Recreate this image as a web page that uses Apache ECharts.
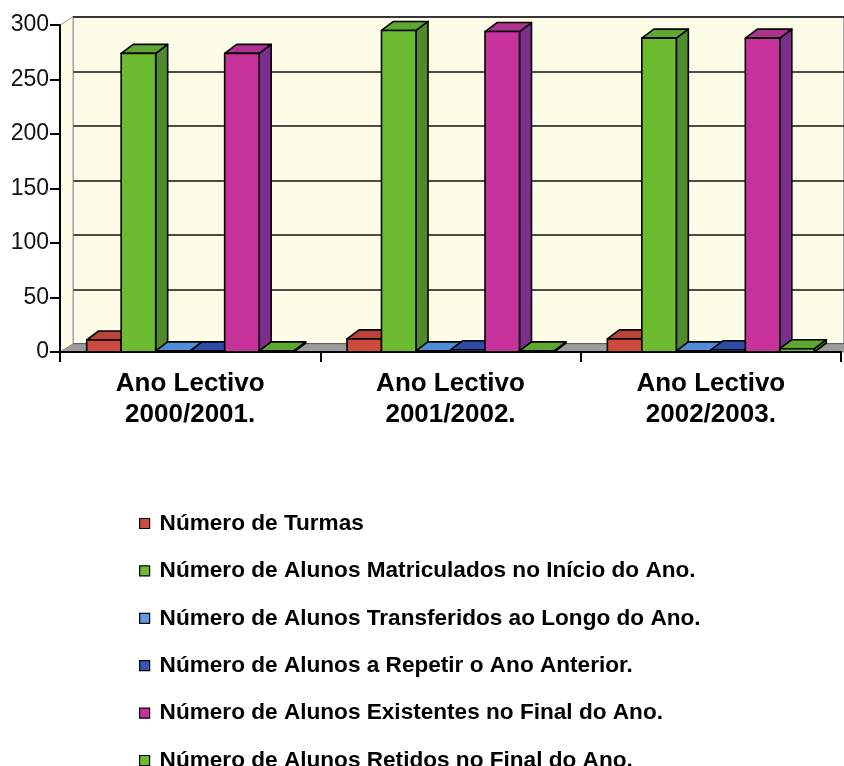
<!DOCTYPE html>
<html>
<head>
<meta charset="utf-8">
<script src="https://cdn.jsdelivr.net/npm/echarts@6/dist/echarts.min.js"></script>
<style>
html,body{margin:0;padding:0;background:#fff;}
#chart{width:844px;height:766px;}
</style>
</head>
<body>
<div id="chart"></div>
<script>
// ---- data ----
const categories = ['Ano Lectivo\n2000/2001.', 'Ano Lectivo\n2001/2002.', 'Ano Lectivo\n2002/2003.'];
const seriesNames = [
  'Número de Turmas',
  'Número de Alunos Matriculados no Início do Ano.',
  'Número de Alunos Transferidos ao Longo do Ano.',
  'Número de Alunos a Repetir o Ano Anterior.',
  'Número de Alunos Existentes no Final do Ano.',
  'Número de Alunos Retidos no Final do Ano.'
];
const turmas = [11, 12, 12];
const matriculados = [274, 295, 288];
const transferidos = [1, 1, 1];
const repetir = [1, 2, 2];
const existentes = [274, 294, 288];
const retidos = [1, 1, 3];
const yTicks = [0, 50, 100, 150, 200, 250, 300];

const seriesValues = [turmas, matriculados, transferidos, repetir, existentes, retidos];
const frontColors = ['#CC4B3E', '#6DBB30', '#5B9EE6', '#3556B8', '#C7339A', '#6DBB30'];
const topColors   = ['#B8443A', '#5EA832', '#4E8ED6', '#2E4BA6', '#B03290', '#5EA832'];
const sideColors  = ['#9E3A30', '#4F8A2C', '#3F78B8', '#263F8C', '#7B2E8C', '#4F8A2C'];

const NS = seriesNames.length;
const GROUP = 0.795;
const DX = 12, DY = 9;   // bar depth
const FDX = 13, FDY = 8; // floor / wall depth

function barRender(si) {
  return function (params, api) {
    const cat = api.value(0), v = api.value(1);
    const c = api.coord([cat, v]);
    const c0 = api.coord([cat, 0]);
    const band = api.size([1, 0])[0];
    const w = band * GROUP / NS;
    const x = c[0] - band * GROUP / 2 + si * w;
    const yt = c[1], yb = c0[1];
    const ls = {stroke: '#000', lineWidth: 1.6, lineJoin: 'round'};
    return {
      type: 'group',
      children: [
        {type: 'polygon', shape: {points: [[x + w, yt], [x + w + DX, yt - DY], [x + w + DX, yb - DY], [x + w, yb]]},
          style: Object.assign({fill: sideColors[si]}, ls)},
        {type: 'polygon', shape: {points: [[x, yt], [x + DX, yt - DY], [x + w + DX, yt - DY], [x + w, yt]]},
          style: Object.assign({fill: topColors[si]}, ls)},
        {type: 'rect', shape: {x: x, y: yt, width: w, height: yb - yt},
          style: Object.assign({fill: frontColors[si]}, ls)}
      ]
    };
  };
}

function wallRender(params, api) {
  const p0 = api.coord([0, 0]);
  const band = api.size([1, 0])[0];
  const left = p0[0] - band / 2;
  const right = left + band * categories.length;
  const y0 = p0[1];
  const yTop = api.coord([0, yTicks[yTicks.length - 1]])[1];
  return {
    type: 'group',
    children: [
      {type: 'polygon', shape: {points: [[left, yTop], [left + FDX, yTop - FDY], [left + FDX, y0 - FDY], [left, y0]]},
        style: {fill: '#FDFCE6', stroke: '#9a9aa8', lineWidth: 1}},
      {type: 'polygon', shape: {points: [[left, y0], [left + FDX, y0 - FDY], [right + FDX + 20, y0 - FDY], [right + 20, y0]]},
        style: {fill: '#9C9C9C', stroke: '#8a8a8a', lineWidth: 1}}
    ]
  };
}

const series = [
  {
    type: 'custom', name: '_wall', xAxisIndex: 0, yAxisIndex: 0, silent: true, z: 1,
    renderItem: wallRender, data: [[0, 0]], legendHoverLink: false
  }
];
seriesNames.forEach(function (name, si) {
  series.push({
    type: 'custom', name: name, xAxisIndex: 0, yAxisIndex: 0, z: 3,
    itemStyle: {color: frontColors[si]},
    renderItem: barRender(si),
    encode: {x: 0, y: 1},
    data: seriesValues[si].map(function (v, i) { return [i, v]; })
  });
});
// back wall grid (gridlines)
series.push({type: 'line', xAxisIndex: 1, yAxisIndex: 1, data: [], silent: true});

const chart = echarts.init(document.getElementById('chart'), null, {renderer: 'canvas'});
chart.setOption({
  backgroundColor: '#ffffff',
  animation: false,
  grid: [
    {left: 60, right: 3, top: 25, bottom: 414, containLabel: false},
    {left: 73, right: -13, top: 17, bottom: 422, containLabel: false, show: true,
      backgroundColor: '#FDFCE6', borderColor: '#8f8fa8', borderWidth: 1.5}
  ],
  xAxis: [
    {type: 'category', gridIndex: 0, data: categories, boundaryGap: true,
      axisLine: {lineStyle: {color: '#000', width: 2}},
      axisTick: {show: true, length: 10, lineStyle: {color: '#000', width: 2}},
      axisLabel: {color: '#000', fontFamily: 'Liberation Sans', fontWeight: 'bold', fontSize: 26, lineHeight: 31, margin: 16},
      splitLine: {show: false}, z: 5},
    {type: 'category', gridIndex: 1, data: categories, show: false}
  ],
  yAxis: [
    {type: 'value', gridIndex: 0, min: 0, max: 300, interval: 50,
      axisLine: {show: true, lineStyle: {color: '#000', width: 2}},
      axisTick: {show: true, length: 10, lineStyle: {color: '#000', width: 2}},
      axisLabel: {color: '#111', fontFamily: 'Liberation Sans', fontSize: 23, margin: 11},
      splitLine: {show: false}, z: 5},
    {type: 'value', gridIndex: 1, min: 0, max: 300, interval: 50,
      axisLine: {show: false}, axisTick: {show: false}, axisLabel: {show: false},
      splitLine: {show: true, lineStyle: {color: '#111', width: 1.6}}}
  ],
  legend: {
    data: seriesNames,
    orient: 'vertical', left: 134, top: 507, height: 300,
    itemWidth: 10, itemHeight: 10, itemGap: 24.4,
    icon: 'rect',
    itemStyle: {borderColor: '#000', borderWidth: 1.2},
    textStyle: {color: '#000', fontFamily: 'Liberation Sans', fontWeight: 'bold', fontSize: 22.6, lineHeight: 23, padding: [0, 0, 0, 5]},
    selectedMode: false
  },
  series: series
});
</script>
</body>
</html>
